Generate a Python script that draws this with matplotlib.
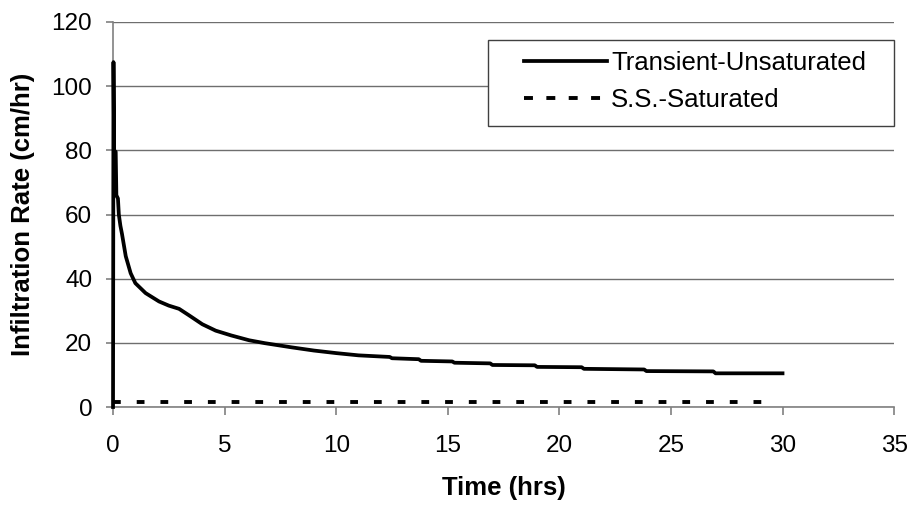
import matplotlib
matplotlib.use("Agg")
import matplotlib.pyplot as plt
from matplotlib.lines import Line2D
from matplotlib.patches import Rectangle

# Transient (unsaturated) infiltration rate vs. time
time_hrs = [0.0, 0.02, 0.05, 0.12, 0.15, 0.22, 0.26, 0.33, 0.40, 0.57, 0.79, 1.0,
            1.46, 2.06, 2.5, 2.96, 3.4, 4.0, 4.6, 5.3, 6.1, 6.8, 8.0, 9.0, 10.0,
            11.0, 12.4, 12.5, 13.7, 13.8, 15.2, 15.3, 16.9, 17.0, 18.9, 19.0,
            21.0, 21.1, 23.8, 23.9, 26.9, 27.0, 30.0]
rate_transient = [0.0, 107.5, 80.0, 79.5, 66.0, 65.0, 60.0, 56.5, 54.0, 47.0, 41.7, 38.6,
                  35.5, 32.9, 31.6, 30.6, 28.6, 25.8, 23.8, 22.3, 20.8, 19.9, 18.6, 17.6, 16.8,
                  16.1, 15.6, 15.2, 14.9, 14.4, 14.2, 13.8, 13.6, 13.1, 13.0, 12.5,
                  12.4, 11.9, 11.7, 11.2, 11.1, 10.5, 10.5]

# Steady-state (saturated) infiltration rate
time_ss = [0.0, 29.5]
rate_ss = [1.7, 1.7]

series_labels = ["Transient-Unsaturated", "S.S.-Saturated"]
x_ticks = [0, 5, 10, 15, 20, 25, 30, 35]
y_ticks = [0, 20, 40, 60, 80, 100, 120]

plt.rcParams["font.family"] = ["Liberation Sans", "DejaVu Sans"]

fig = plt.figure(figsize=(9.13, 5.08), dpi=100)
ax = fig.add_axes([0.1238, 0.1988, 0.8555, 0.7579])

grid_col = "#6e6e6e"
axis_col = "#808080"

ax.set_xlim(0, 35)
ax.set_ylim(0, 120)
ax.set_xticks(x_ticks)
ax.set_yticks(y_ticks)
ax.yaxis.grid(True, color=grid_col, linewidth=1.0)
ax.set_axisbelow(True)

for side in ("top", "right"):
    ax.spines[side].set_visible(False)
for side in ("left", "bottom"):
    ax.spines[side].set_color(axis_col)
    ax.spines[side].set_linewidth(1.2)

ax.tick_params(axis="both", colors=axis_col, labelcolor="black", labelsize=17.5,
               direction="out", width=1.2)
ax.tick_params(axis="y", length=5, pad=10)
ax.tick_params(axis="x", length=6, pad=14)

ax.plot(time_hrs, rate_transient, color="black", linewidth=2.7,
        solid_joinstyle="round", clip_on=False, zorder=3)
ax.plot(time_ss, rate_ss, color="black", linewidth=2.8,
        linestyle=(0, (2.0, 4.1)), dash_capstyle="butt", zorder=3)

ax.set_xlabel("Time (hrs)", fontsize=18.5, fontweight="bold", labelpad=14)
ax.set_ylabel("Infiltration Rate (cm/hr)", fontsize=18.5, fontweight="bold", labelpad=12)

# legend box
box = Rectangle((0.480, 0.730), 0.520, 0.223, transform=ax.transAxes,
                facecolor="white", edgecolor="#404040", linewidth=1.0,
                zorder=4, clip_on=False)
ax.add_patch(box)

handles = [
    Line2D([], [], color="black", linewidth=2.7),
    Line2D([], [], color="black", linewidth=2.8, linestyle=(0, (2.3, 3.45)),
           dash_capstyle="butt"),
]
leg = ax.legend(handles, series_labels, loc="center left",
                bbox_to_anchor=(0.526, 0.845), borderaxespad=0, borderpad=0,
                fontsize=18.5, frameon=False, handlelength=3.25, handletextpad=0.15,
                labelspacing=0.5)
leg.set_zorder(5)

fig.savefig("out.png", dpi=100, facecolor="white")
